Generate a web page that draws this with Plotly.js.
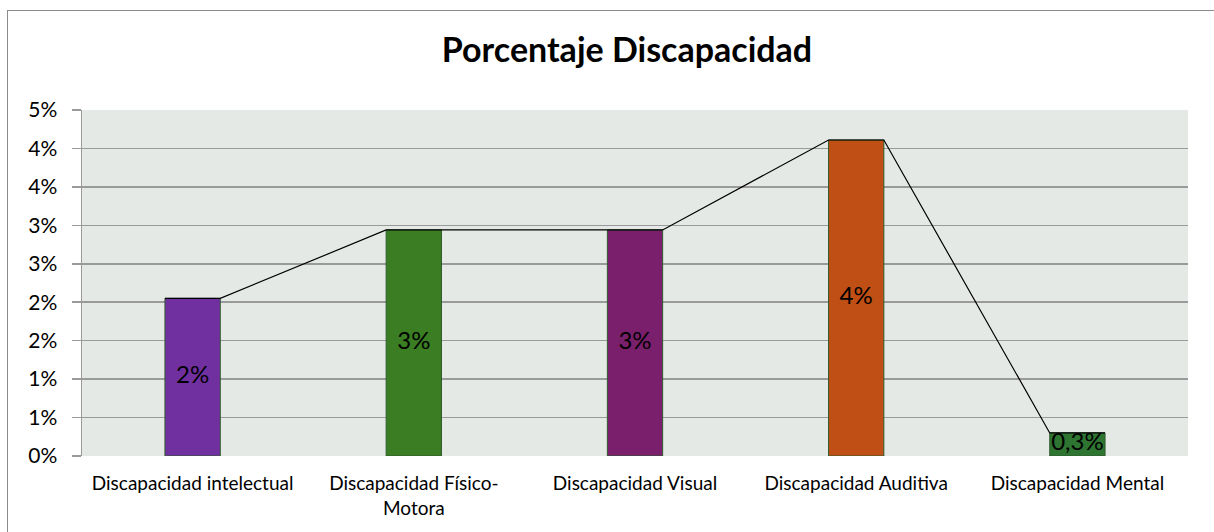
<!DOCTYPE html>
<html>
<head>
<meta charset="utf-8">
<script src="https://cdn.plot.ly/plotly-3.0.1.min.js"></script>
<style>
  html, body { margin: 0; padding: 0; background: #ffffff; overflow: hidden; }
  #frame { position: absolute; left: 7px; top: 10px; width: 1240px; height: 560px; border: 1.5px solid #8c8c8c; box-sizing: border-box; pointer-events: none; z-index: 5; }
  #chart { position: absolute; left: 0; top: 0; width: 1214px; height: 532px; }
</style>
</head>
<body>
<div id="chart"></div>
<div id="frame"></div>
<script>
// ---- data ----
const categories = ["Discapacidad intelectual", "Discapacidad Físico-<br>Motora", "Discapacidad Visual", "Discapacidad Auditiva", "Discapacidad Mental"];
const values = [0.0205, 0.0294, 0.0294, 0.0411, 0.0030];
const valueLabels = ["2%", "3%", "3%", "4%", "0,3%"];
const barColors = ["#7030A0", "#3A7D22", "#7A1F6B", "#C04F15", "#2E7532"];
const yTickVals = [0, 0.005, 0.01, 0.015, 0.02, 0.025, 0.03, 0.035, 0.04, 0.045];
const yTickText = ["0%", "1%", "1%", "2%", "2%", "3%", "3%", "4%", "4%", "5%"];

const barWidth = 0.25;
const idx = categories.map((_, i) => i);

// series line joining the bar tops (corner to corner)
const lineX = [], lineY = [];
values.forEach((v, i) => {
  lineX.push(i - barWidth / 2, i + barWidth / 2);
  lineY.push(v, v);
});

const fontFam = "Lato, 'Open Sans', sans-serif";

const traces = [
  {
    type: "bar",
    x: idx,
    y: values,
    width: barWidth,
    marker: { color: barColors, line: { color: "#2E5A2E", width: 1 } },
    hoverinfo: "skip"
  },
  {
    type: "scatter",
    mode: "lines",
    x: lineX,
    y: lineY,
    line: { color: "#000000", width: 1.2 },
    hoverinfo: "skip"
  },
  {
    type: "scatter",
    mode: "text",
    x: idx,
    y: values.map(v => v / 2),
    text: valueLabels,
    textposition: "middle center",
    textfont: { family: fontFam, size: 24, color: "#000000" },
    hoverinfo: "skip"
  }
];

const layout = {
  width: 1214,
  height: 532,
  margin: { l: 82, r: 26, t: 110, b: 76 },
  paper_bgcolor: "rgba(0,0,0,0)",
  plot_bgcolor: "#E5E9E5",
  showlegend: false,
  font: { family: fontFam, color: "#000000" },
  title: {
    text: "<b>Porcentaje Discapacidad</b>",
    font: { family: fontFam, size: 34, color: "#000000" },
    x: 627 / 1214,
    xanchor: "center",
    xref: "container",
    y: 1 - 50 / 532,
    yref: "container",
    yanchor: "middle"
  },
  xaxis: {
    range: [-0.5, 4.5],
    tickvals: idx,
    ticktext: categories,
    tickfont: { family: fontFam, size: 19, color: "#000000" },
    showgrid: false,
    zeroline: false,
    showline: false,
    ticks: "",
    ticklabelstandoff: 14,
    fixedrange: true
  },
  yaxis: {
    range: [0, 0.045],
    tickvals: yTickVals,
    ticktext: yTickText,
    tickfont: { family: fontFam, size: 21, color: "#000000" },
    showgrid: true,
    gridcolor: "#9a9a9a",
    gridwidth: 1.5,
    zeroline: false,
    showline: true,
    linecolor: "#9a9a9a",
    linewidth: 1.5,
    ticks: "outside",
    ticklen: 9,
    tickcolor: "#9a9a9a",
    tickwidth: 1.5,
    ticklabelstandoff: 10,
    fixedrange: true
  }
};

Plotly.newPlot("chart", traces, layout, { displayModeBar: false, staticPlot: true });
</script>
</body>
</html>
